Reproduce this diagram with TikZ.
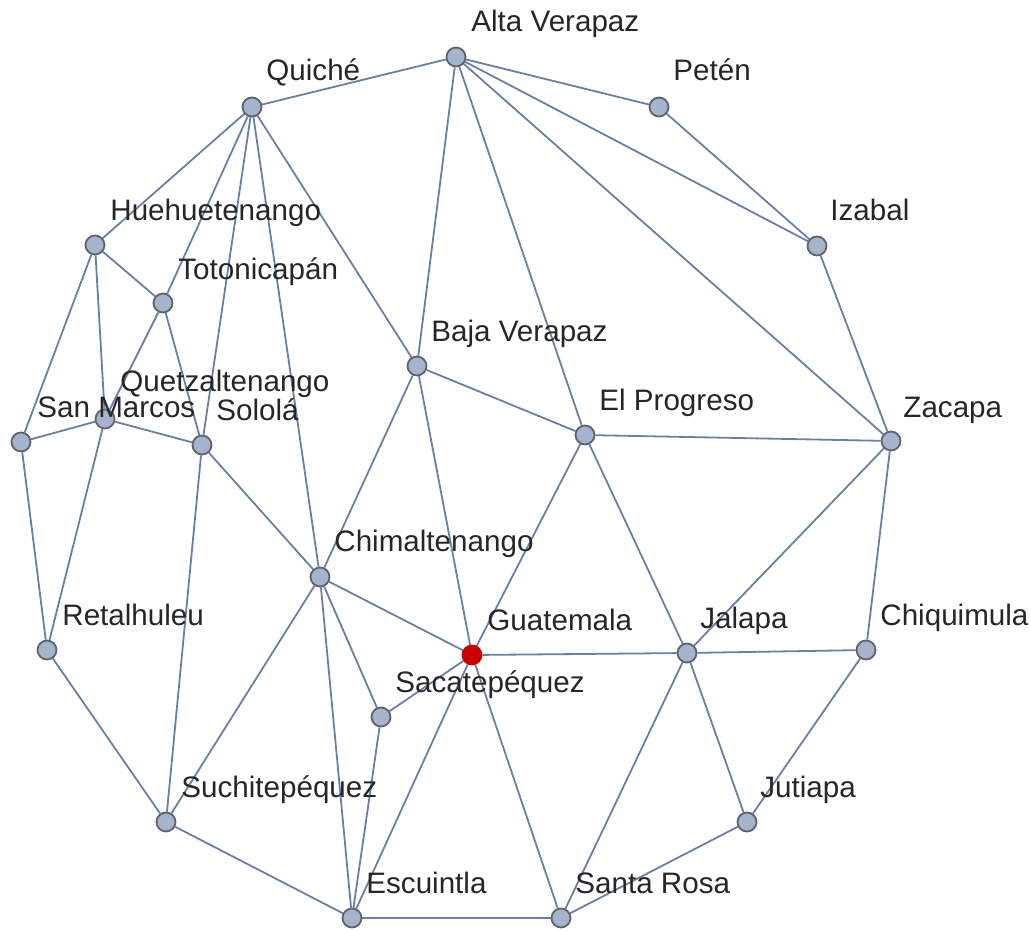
\documentclass[tikz,border=0pt]{standalone}
\usepackage{fontspec}
\setmainfont{Liberation Sans}
\usetikzlibrary{backgrounds}
\definecolor{edgec}{RGB}{103,128,166}
\definecolor{vfill}{RGB}{163,180,204}
\definecolor{vdraw}{RGB}{95,98,106}
\definecolor{vred}{RGB}{200,0,0}
\begin{document}
\begin{tikzpicture}[x=0.5pt,y=-0.5pt,
  vert/.style={circle,fill=vfill,draw=vdraw,line width=0.9pt,minimum size=9.5pt,inner sep=0pt},
  redvert/.style={circle,fill=vred,draw=vred,line width=0.9pt,minimum size=9.5pt,inner sep=0pt},
  lab/.style={anchor=base west,inner sep=0pt,font=\fontsize{14.8}{17}\selectfont,text=black!85},
  edge/.style={draw=edgec,line width=0.9pt}]
\useasboundingbox (0,0) rectangle (1031,930);
% vertices
\node[vert] (AV) at (456,57) {};
\node[vert] (Pe) at (659,107) {};
\node[vert] (Qu) at (252,107) {};
\node[vert] (Iz) at (817,246) {};
\node[vert] (Hu) at (95,245) {};
\node[vert] (To) at (163,303) {};
\node[vert] (BV) at (417,366) {};
\node[vert] (Qz) at (105,419) {};
\node[vert] (SM) at (21,442) {};
\node[vert] (So) at (202,445) {};
\node[vert] (EP) at (585,435) {};
\node[vert] (Za) at (891,441) {};
\node[vert] (Ch) at (320,577) {};
\node[vert] (Re) at (47,650) {};
\node[redvert] (Gu) at (472,655) {};
\node[vert] (Ja) at (687,653) {};
\node[vert] (Cq) at (866,650) {};
\node[vert] (Sa) at (381,717) {};
\node[vert] (Jt) at (747,822) {};
\node[vert] (Su) at (166,822) {};
\node[vert] (Es) at (352,918) {};
\node[vert] (SR) at (561,918) {};
% edges
\begin{scope}[on background layer]
\foreach \a/\b in {AV/Qu,AV/Pe,AV/Iz,AV/Za,AV/EP,AV/BV,Pe/Iz,Iz/Za,
  Qu/Hu,Qu/To,Qu/So,Qu/Ch,Qu/BV,Hu/To,Hu/SM,Hu/Qz,To/Qz,To/So,
  Qz/SM,Qz/So,Qz/Re,SM/Re,So/Ch,So/Su,Re/Su,BV/EP,BV/Ch,BV/Gu,
  EP/Za,EP/Gu,EP/Ja,Za/Ja,Za/Cq,Ch/Gu,Ch/Sa,Ch/Su,Ch/Es,
  Gu/Ja,Gu/Sa,Gu/Es,Gu/SR,Ja/Cq,Ja/SR,Ja/Jt,Cq/Jt,Jt/SR,
  Su/Es,Es/SR,Sa/Es}
  \draw[edge] (\a) -- (\b);
\end{scope}
% labels
\node[lab] (AV-l) at (471,32) {Alta Verapaz};
\node[lab] (Pe-l) at (673,81) {Petén};
\node[lab] (Qu-l) at (266,81) {Quiché};
\node[lab] (Iz-l) at (830,221) {Izabal};
\node[lab] (Hu-l) at (110,221) {Huehuetenango};
\node[lab] (To-l) at (178,279) {Totonicapán};
\node[lab] (BV-l) at (431,341) {Baja Verapaz};
\node[lab] (Qz-l) at (120,391) {Quetzaltenango};
\node[lab] (SM-l) at (37,417) {San Marcos};
\node[lab] (So-l) at (216,420) {Sololá};
\node[lab] (EP-l) at (599,410) {El Progreso};
\node[lab] (Za-l) at (903,417) {Zacapa};
\node[lab] (Ch-l) at (334,551) {Chimaltenango};
\node[lab] (Re-l) at (62,625) {Retalhuleu};
\node[lab] (Gu-l) at (487,630) {Guatemala};
\node[lab] (Ja-l) at (700,628) {Jalapa};
\node[lab] (Cq-l) at (880,625) {Chiquimula};
\node[lab] (Sa-l) at (395,692) {Sacatepéquez};
\node[lab] (Jt-l) at (760,797) {Jutiapa};
\node[lab] (Su-l) at (181,797) {Suchitepéquez};
\node[lab] (Es-l) at (366,893) {Escuintla};
\node[lab] (SR-l) at (575,893) {Santa Rosa};
\end{tikzpicture}
\end{document}
